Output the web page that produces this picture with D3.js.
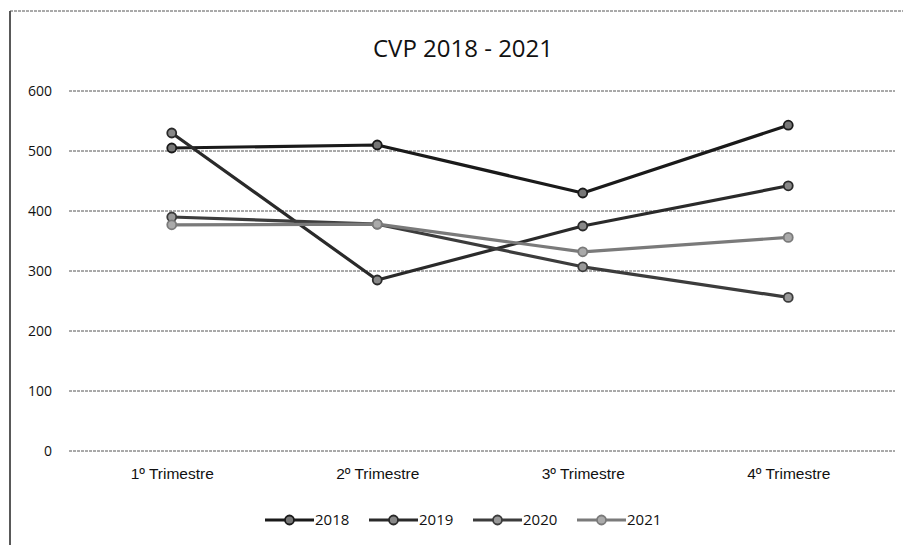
<!DOCTYPE html>
<html>
<head>
<meta charset="utf-8">
<script src="https://cdn.jsdelivr.net/npm/d3@7"></script>
<style>
  html, body { margin: 0; padding: 0; background: #fff; }
  svg { display: block; }
</style>
</head>
<body>
<script>
const categories = ["1º Trimestre", "2º Trimestre", "3º Trimestre", "4º Trimestre"];
const seriesNames = ["2018", "2019", "2020", "2021"];
const values2018 = [505, 510, 430, 543];
const values2019 = [530, 285, 375, 442];
const values2020 = [390, 378, 307, 256];
const values2021 = [377, 378, 332, 356];
const yTicks = [0, 100, 200, 300, 400, 500, 600];
const colors = ["#1a1a1a", "#2a2a2a", "#3c3c3c", "#7a7a7a"];
const markerFills = ["#777", "#888", "#999", "#aaa"];

const series = [values2018, values2019, values2020, values2021].map((v, i) => ({
  name: seriesNames[i], values: v, color: colors[i], fill: markerFills[i]
}));

const W = 903, H = 545;
const svg = d3.select("body").append("svg").attr("width", W).attr("height", H);
const font = "'Open Sans', Lato, sans-serif";
const labelFont = "'Liberation Sans', 'DejaVu Sans', sans-serif";

// frame edges (scan)
svg.append("line").attr("x1", 10).attr("x2", 10).attr("y1", 11).attr("y2", H).attr("stroke", "#222").attr("stroke-width", 1.5);
svg.append("line").attr("x1", 10).attr("x2", W).attr("y1", 11).attr("y2", 11).attr("stroke", "#555").attr("stroke-width", 1).attr("stroke-dasharray", "3,1");

const x = d3.scalePoint().domain(categories).range([69, 891]).padding(0.5);
const y = d3.scaleLinear().domain([0, 600]).range([451, 91]);

// gridlines
svg.append("g").selectAll("line").data(yTicks).join("line")
  .attr("x1", 69).attr("x2", 895)
  .attr("y1", d => y(d)).attr("y2", d => y(d))
  .attr("stroke", "#555").attr("stroke-width", 1).attr("stroke-dasharray", "3,1");

// y axis labels
const yAxis = d3.axisLeft(y).tickValues(yTicks).tickSize(0).tickPadding(0);
const yg = svg.append("g").attr("transform", "translate(52,0)").call(yAxis);
yg.select(".domain").remove();
yg.selectAll("text").attr("font-family", font).attr("font-size", 14).attr("fill", "#111");

// x axis labels
const xAxis = d3.axisBottom(x).tickSize(0).tickPadding(0);
const xg = svg.append("g").attr("transform", "translate(0,467)").call(xAxis);
xg.select(".domain").remove();
xg.selectAll("text").attr("font-family", labelFont).attr("font-size", 15.5).attr("fill", "#111").attr("dy", "0.8em");

// title
svg.append("text").attr("x", 463).attr("y", 57).attr("text-anchor", "middle")
  .attr("font-family", font).attr("font-size", 24).attr("fill", "#111").text("CVP 2018 - 2021");

// lines
const line = d3.line().x((d, i) => x(categories[i])).y(d => y(d));
const sg = svg.append("g").selectAll("g").data(series).join("g");
sg.append("path").attr("d", d => line(d.values)).attr("fill", "none")
  .attr("stroke", d => d.color).attr("stroke-width", 3.2).attr("stroke-linejoin", "round");
sg.selectAll("circle").data(d => d.values.map(v => ({ v, s: d }))).join("circle")
  .attr("cx", (d, i) => x(categories[i])).attr("cy", d => y(d.v)).attr("r", 4.5)
  .attr("fill", d => d.s.fill).attr("stroke", d => d.s.color).attr("stroke-width", 1.8);

// legend
const legend = svg.append("g");
const lx0 = 265, step = 104, ly = 520;
series.forEach((s, i) => {
  const gx = lx0 + i * step;
  const g = legend.append("g").attr("transform", `translate(${gx},${ly})`);
  g.append("line").attr("x1", 0).attr("x2", 49).attr("y1", 0).attr("y2", 0)
    .attr("stroke", s.color).attr("stroke-width", 3);
  g.append("circle").attr("cx", 24.5).attr("cy", 0).attr("r", 4.5)
    .attr("fill", s.fill).attr("stroke", s.color).attr("stroke-width", 1.8);
  g.append("text").attr("x", 50).attr("y", 0).attr("dy", "0.35em")
    .attr("font-family", font).attr("font-size", 15).attr("fill", "#111").text(s.name);
});
</script>
</body>
</html>
